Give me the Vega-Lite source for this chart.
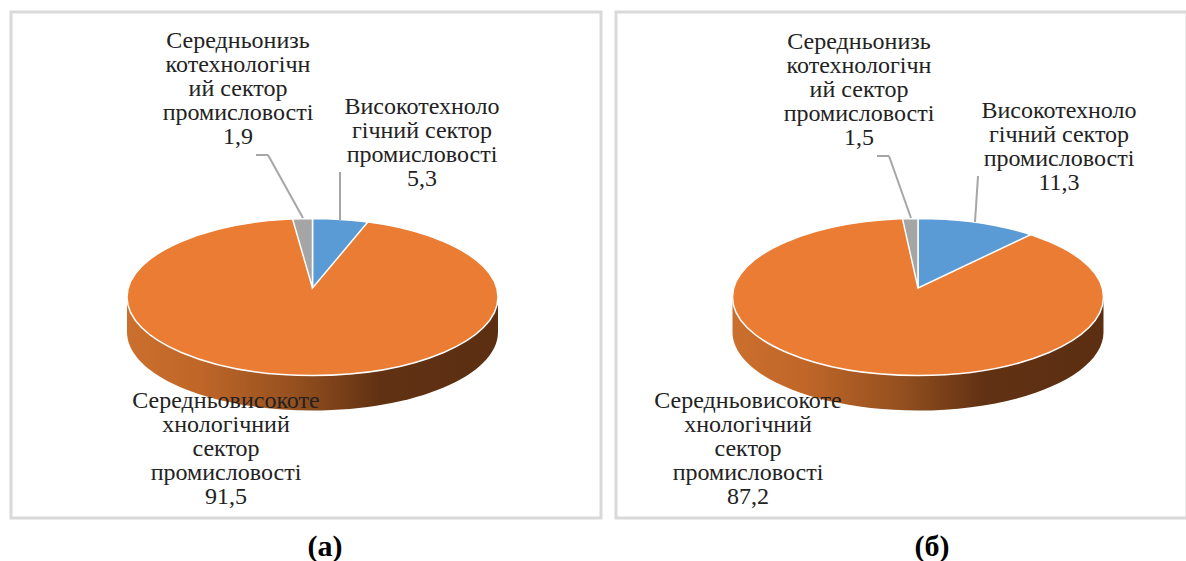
{"$schema":"https://vega.github.io/schema/vega-lite/v6.json","padding":{"left":9,"top":10,"right":0,"bottom":0},"background":"#ffffff","spacing":11,"config":{"axis":{"disable":true},"view":{"stroke":"#d9d9d9","strokeWidth":3}},
"datasets":{
"a":[{"order":1,"sector":"high","value":5.3,"text":"Високотехноло\nгічний сектор\nпромисловості\n5,3"},{"order":2,"sector":"midhigh","value":91.5,"text":"Середньовисокоте\nхнологічний\nсектор\nпромисловості\n91,5"},{"order":3,"sector":"midlow","value":1.9,"text":"Середньонизь\nкотехнологічн\nий сектор\nпромисловості\n1,9"}],
"b":[{"order":1,"sector":"high","value":11.3,"text":"Високотехноло\nгічний сектор\nпромисловості\n11,3"},{"order":2,"sector":"midhigh","value":87.2,"text":"Середньовисокоте\nхнологічний\nсектор\nпромисловості\n87,2"},{"order":3,"sector":"midlow","value":1.5,"text":"Середньонизь\nкотехнологічн\nий сектор\nпромисловості\n1,5"}]},
"hconcat":[
{"width":590,"height":506,"data":{"name":"a"},
"layer":[
{"transform":[{"filter":"datum.order==2"}],"mark":{"type":"point","filled":true,"opacity":1,"size":137641,"shape":"M-1,0L-1,0.1887C-1,0.4224 -0.5523,0.6119 0,0.6119C0.5523,0.6119 1,0.4224 1,0.1887L1,0Z","fill":{"gradient":"linear","x1":0,"y1":0,"x2":1,"y2":0,"stops":[{"offset":0,"color":"#cb6f2d"},{"offset":0.2,"color":"#bf6628"},{"offset":0.45,"color":"#95501f"},{"offset":0.68,"color":"#613113"},{"offset":1,"color":"#5c2f12"}]}},"encoding":{"x":{"datum":312.5,"scale":{"domain":[11,601],"nice":false,"zero":false}},"y":{"datum":297,"scale":{"domain":[518,12],"nice":false,"zero":false}}}},
{"transform":[{"filter":"datum.order==2"}],"mark":{"type":"point","filled":true,"opacity":1,"size":137641,"color":"#ea7c33","stroke":"#ffffff","strokeWidth":1.5,"shape":"M-1,0C-1,-0.2337 -0.5523,-0.4232 0,-0.4232C0.5523,-0.4232 1,-0.2337 1,0C1,0.2337 0.5523,0.4232 0,0.4232C-0.5523,0.4232 -1,0.2337 -1,0Z"},"encoding":{"x":{"datum":312.5},"y":{"datum":297}}},
{"transform":[{"filter":"datum.order==1"}],"mark":{"type":"point","filled":true,"opacity":1,"size":137641,"color":"#5b9bd5","stroke":"#ffffff","strokeWidth":1.5,"shape":"M0,-0.0485L0,-0.4232C0.1011,-0.4232 0.2016,-0.4167 0.2981,-0.4039Z"},"encoding":{"x":{"datum":312.5},"y":{"datum":297}}},
{"transform":[{"filter":"datum.order==3"}],"mark":{"type":"point","filled":true,"opacity":1,"size":137641,"color":"#a5a5a5","stroke":"#ffffff","strokeWidth":1.5,"shape":"M0,-0.0485L-0.1076,-0.4207C-0.0719,-0.4223 -0.0359,-0.4232 0,-0.4232Z"},"encoding":{"x":{"datum":312.5},"y":{"datum":297}}},
{"transform":[{"filter":"datum.order==1"}],"mark":{"type":"rule","color":"#a6a6a6","strokeWidth":2},"encoding":{"x":{"datum":340},"x2":{"datum":340},"y":{"datum":172},"y2":{"datum":220}}},
{"transform":[{"filter":"datum.order==3"}],"mark":{"type":"rule","color":"#a6a6a6","strokeWidth":2},"encoding":{"x":{"datum":256},"x2":{"datum":268},"y":{"datum":155},"y2":{"datum":155}}},
{"transform":[{"filter":"datum.order==3"}],"mark":{"type":"rule","color":"#a6a6a6","strokeWidth":2},"encoding":{"x":{"datum":268},"x2":{"datum":303},"y":{"datum":155},"y2":{"datum":218}}},
{"transform":[{"filter":"datum.order==1"}],"mark":{"type":"text","font":"Liberation Serif","fontSize":24,"lineHeight":24,"lineBreak":"\n","baseline":"top","align":"center","color":"#222222"},"encoding":{"x":{"datum":422},"y":{"datum":95},"text":{"field":"text"}}},
{"transform":[{"filter":"datum.order==2"}],"mark":{"type":"text","font":"Liberation Serif","fontSize":24,"lineHeight":24,"lineBreak":"\n","baseline":"top","align":"center","color":"#222222"},"encoding":{"x":{"datum":226},"y":{"datum":389},"text":{"field":"text"}}},
{"transform":[{"filter":"datum.order==3"}],"mark":{"type":"text","font":"Liberation Serif","fontSize":24,"lineHeight":24,"lineBreak":"\n","baseline":"top","align":"center","color":"#222222"},"encoding":{"x":{"datum":238},"y":{"datum":29},"text":{"field":"text"}}},
{"transform":[{"filter":"datum.order==1"}],"mark":{"type":"text","font":"Liberation Serif","fontSize":30,"fontWeight":"bold","baseline":"middle","align":"center","color":"#000000"},"encoding":{"x":{"datum":325},"y":{"datum":547},"text":{"value":"(а)"}}}
]},
{"width":571,"height":506,"data":{"name":"b"},
"layer":[
{"transform":[{"filter":"datum.order==2"}],"mark":{"type":"point","filled":true,"opacity":1,"size":137641,"shape":"M-1,0L-1,0.1887C-1,0.4224 -0.5523,0.6119 0,0.6119C0.5523,0.6119 1,0.4224 1,0.1887L1,0Z","fill":{"gradient":"linear","x1":0,"y1":0,"x2":1,"y2":0,"stops":[{"offset":0,"color":"#cb6f2d"},{"offset":0.2,"color":"#bf6628"},{"offset":0.45,"color":"#95501f"},{"offset":0.68,"color":"#613113"},{"offset":1,"color":"#5c2f12"}]}},"encoding":{"x":{"datum":917,"scale":{"domain":[615,1186],"nice":false,"zero":false}},"y":{"datum":297,"scale":{"domain":[518,12],"nice":false,"zero":false}}}},
{"transform":[{"filter":"datum.order==2"}],"mark":{"type":"point","filled":true,"opacity":1,"size":137641,"color":"#ea7c33","stroke":"#ffffff","strokeWidth":1.5,"shape":"M-1,0C-1,-0.2337 -0.5523,-0.4232 0,-0.4232C0.5523,-0.4232 1,-0.2337 1,0C1,0.2337 0.5523,0.4232 0,0.4232C-0.5523,0.4232 -1,0.2337 -1,0Z"},"encoding":{"x":{"datum":917},"y":{"datum":297}}},
{"transform":[{"filter":"datum.order==1"}],"mark":{"type":"point","filled":true,"opacity":1,"size":137641,"color":"#5b9bd5","stroke":"#ffffff","strokeWidth":1.5,"shape":"M0,-0.0485L0,-0.4232C0.2196,-0.4232 0.4331,-0.3927 0.6075,-0.3362Z"},"encoding":{"x":{"datum":917},"y":{"datum":297}}},
{"transform":[{"filter":"datum.order==3"}],"mark":{"type":"point","filled":true,"opacity":1,"size":137641,"color":"#a5a5a5","stroke":"#ffffff","strokeWidth":1.5,"shape":"M0,-0.0485L-0.0838,-0.4217C-0.0559,-0.4227 -0.028,-0.4232 0,-0.4232Z"},"encoding":{"x":{"datum":917},"y":{"datum":297}}},
{"transform":[{"filter":"datum.order==1"}],"mark":{"type":"rule","color":"#a6a6a6","strokeWidth":2},"encoding":{"x":{"datum":977},"x2":{"datum":974},"y":{"datum":176},"y2":{"datum":222}}},
{"transform":[{"filter":"datum.order==3"}],"mark":{"type":"rule","color":"#a6a6a6","strokeWidth":2},"encoding":{"x":{"datum":876},"x2":{"datum":888},"y":{"datum":156},"y2":{"datum":156}}},
{"transform":[{"filter":"datum.order==3"}],"mark":{"type":"rule","color":"#a6a6a6","strokeWidth":2},"encoding":{"x":{"datum":888},"x2":{"datum":910},"y":{"datum":156},"y2":{"datum":218}}},
{"transform":[{"filter":"datum.order==1"}],"mark":{"type":"text","font":"Liberation Serif","fontSize":24,"lineHeight":24,"lineBreak":"\n","baseline":"top","align":"center","color":"#222222"},"encoding":{"x":{"datum":1058},"y":{"datum":99},"text":{"field":"text"}}},
{"transform":[{"filter":"datum.order==2"}],"mark":{"type":"text","font":"Liberation Serif","fontSize":24,"lineHeight":24,"lineBreak":"\n","baseline":"top","align":"center","color":"#222222"},"encoding":{"x":{"datum":747},"y":{"datum":389},"text":{"field":"text"}}},
{"transform":[{"filter":"datum.order==3"}],"mark":{"type":"text","font":"Liberation Serif","fontSize":24,"lineHeight":24,"lineBreak":"\n","baseline":"top","align":"center","color":"#222222"},"encoding":{"x":{"datum":858},"y":{"datum":30},"text":{"field":"text"}}},
{"transform":[{"filter":"datum.order==1"}],"mark":{"type":"text","font":"Liberation Serif","fontSize":30,"fontWeight":"bold","baseline":"middle","align":"center","color":"#000000"},"encoding":{"x":{"datum":931},"y":{"datum":547},"text":{"value":"(б)"}}}
]}
]}
